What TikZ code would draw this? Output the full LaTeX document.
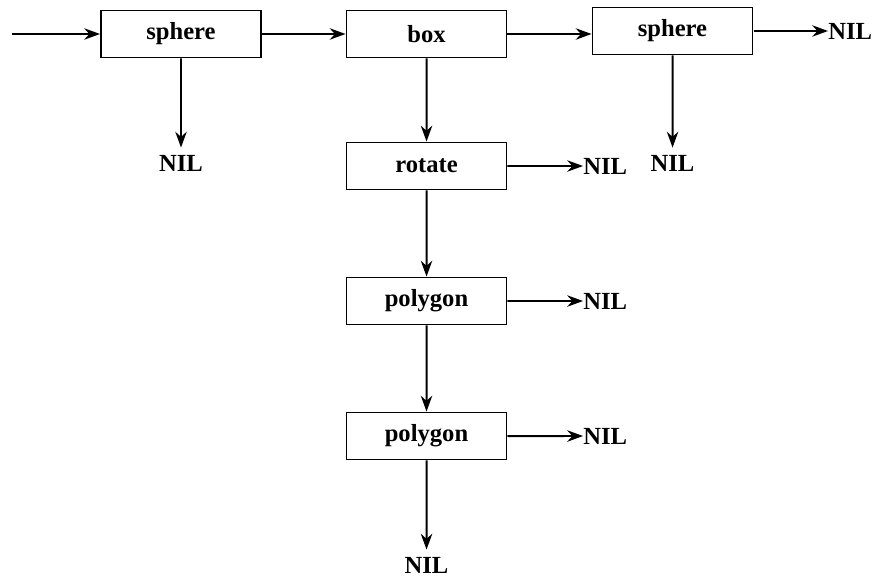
\documentclass[tikz,border=0pt]{standalone}
\usepackage{fontspec}
\setmainfont{Liberation Serif}
\usetikzlibrary{arrows.meta}

\begin{document}
\begin{tikzpicture}[scale=0.1]
	\tikzstyle{every node}+=[font=\fontsize{14}{16}\selectfont\bfseries]
	\tikzstyle{objbox}=[draw, line width=1.1pt, minimum width=3.2cm, minimum height=0.94cm]
	\tikzstyle{nil}=[inner sep=0pt]
	\tikzstyle{link}=[line width=1.1pt, -{Stealth[length=9pt,width=6.5pt]}]
	\useasboundingbox (0,0) rectangle (175.8,-116.4);
	% object boxes
	\node [objbox] (sphereA) at (36.2,-6.8) {sphere};
	\node [objbox] (boxobj) at (85.3,-6.8) {box};
	\node [objbox] (sphereB) at (134.5,-6.2) {sphere};
	\node [objbox] (rotobj) at (85.3,-33.2) {rotate};
	\node [objbox] (polyA) at (85.3,-60.2) {polygon};
	\node [objbox] (polyB) at (85.3,-87.2) {polygon};
	% NIL ends
	\node [nil] (nilA) at (36.2,-32.6) {NIL};
	\node [nil] (nilB) at (134.5,-32.6) {NIL};
	\node [nil, anchor=west] (nilC) at (165.6,-6.2) {NIL};
	\node [nil, anchor=west] (nilD) at (116.6,-33.2) {NIL};
	\node [nil, anchor=west] (nilE) at (116.6,-60.2) {NIL};
	\node [nil, anchor=west] (nilF) at (116.6,-87.2) {NIL};
	\node [nil] (nilG) at (85.3,-113) {NIL};
	\coordinate (start) at (2.4,-6.8);
	% links
	\draw [link] (start) -- (sphereA);
	\draw [link] (sphereA) -- (boxobj);
	\draw [link] (boxobj.east) -- (sphereB.west |- boxobj.east);
	\draw [link] (sphereB) -- (nilC);
	\draw [link, shorten >=4pt] (sphereA) -- (nilA);
	\draw [link, shorten >=4pt] (sphereB) -- (nilB);
	\draw [link] (boxobj) -- (rotobj);
	\draw [link] (rotobj) -- (nilD);
	\draw [link] (rotobj) -- (polyA);
	\draw [link] (polyA) -- (nilE);
	\draw [link] (polyA) -- (polyB);
	\draw [link] (polyB) -- (nilF);
	\draw [link, shorten >=4pt] (polyB) -- (nilG);
\end{tikzpicture}
\end{document}
